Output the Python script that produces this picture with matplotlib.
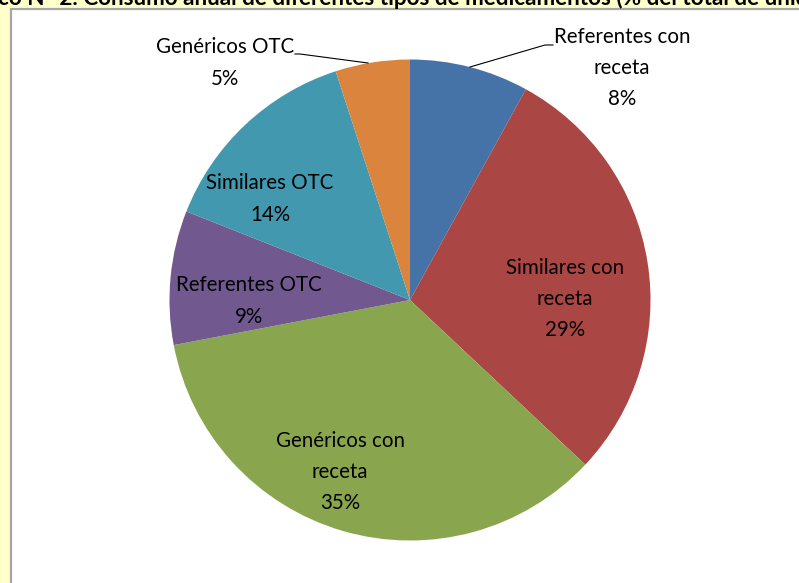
import matplotlib
matplotlib.use("Agg")
import matplotlib.pyplot as plt
from matplotlib.patches import Rectangle

categories = ["Referentes con\nreceta", "Similares con\nreceta", "Genéricos con\nreceta",
              "Referentes OTC", "Similares OTC", "Genéricos OTC"]
values = [8, 29, 35, 9, 14, 5]
colors = ["#4572A7", "#AA4643", "#89A54E", "#71588F", "#4198AF", "#DB843D"]
title = "co N° 2. Consumo anual de diferentes tipos de medicamentos (% del total de unidades)"

W, H = 799, 583
fig = plt.figure(figsize=(W / 100, H / 100), dpi=100)
fig.patch.set_facecolor("#FFFFCC")

ax = fig.add_axes([0, 0, 1, 1])
ax.set_xlim(0, W)
ax.set_ylim(0, H)
ax.set_aspect("equal")
ax.axis("off")

# white chart area with gray border (left/top)
ax.add_patch(Rectangle((11, -5), W, H - 9 + 5, facecolor="white",
                       edgecolor="#A6A6A6", linewidth=1.6, zorder=0))

cx, cy, r = 410, H - 300, 240.5
wedges, _ = ax.pie(values, colors=colors, startangle=90, counterclock=False,
                   center=(cx, cy), radius=r, frame=True,
                   wedgeprops=dict(linewidth=0))
ax.set_xlim(0, W)
ax.set_ylim(0, H)
ax.axis("off")

font = ["Lato", "DejaVu Sans"]
fs = 14.8
# label positions in pixel coordinates (x, y from top)
label_pos = [(622, 68), (565, 299), (340, 472), (249, 301), (270, 199), (225, 63)]
for cat, val, (x, y) in zip(categories, values, label_pos):
    ax.text(x, H - y, f"{cat}\n{val}%", ha="center", va="center",
            fontsize=fs, family=font, linespacing=1.7, color="black", zorder=5)

# leader lines
ax.plot([470, 545, 553], [H - 67, H - 45, H - 45], color="black", lw=0.8, zorder=4)
ax.plot([295, 300, 368], [H - 54, H - 54, H - 63], color="black", lw=0.8, zorder=4)

fig.text(-0.002, 1 - 5 / H, title, ha="left", va="baseline", fontsize=16.2,
         fontweight="bold", family=font, color="black")

fig.savefig("out.png", dpi=100, facecolor=fig.get_facecolor())
